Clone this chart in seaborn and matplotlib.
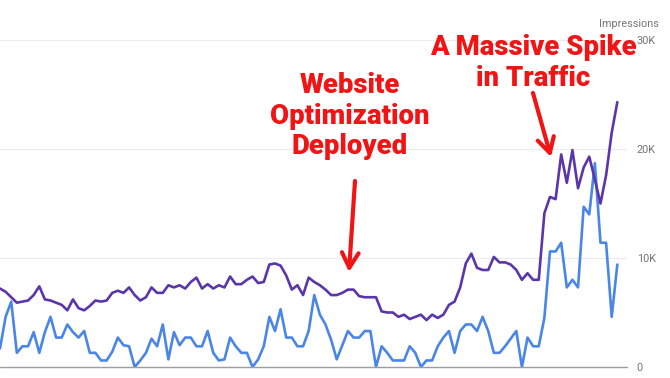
import numpy as np
import pandas as pd
import matplotlib
matplotlib.use("Agg")
import matplotlib.pyplot as plt
import seaborn as sns

# ---- data (thousands of impressions-scale units) ----
impressions_k = [
    7.2, 6.9, 6.4, 5.9, 6.0, 6.1, 6.6, 7.4, 6.2, 6.1,
    5.9, 5.7, 5.2, 6.2, 5.4, 5.2, 5.6, 6.1, 6.0, 6.1,
    6.8, 7.0, 6.8, 7.3, 6.6, 6.1, 6.4, 7.3, 6.8, 6.8,
    7.5, 7.3, 7.5, 7.2, 7.8, 8.2, 7.2, 7.6, 7.2, 7.5,
    7.3, 8.3, 7.6, 7.6, 8.0, 8.3, 7.7, 7.8, 9.4, 9.5,
    9.3, 8.4, 7.1, 7.5, 6.6, 8.2, 7.8, 7.5, 7.1, 6.6,
    6.6, 6.8, 7.1, 7.1, 6.5, 6.4, 6.4, 6.4, 5.1, 5.0,
    5.0, 4.6, 4.8, 4.4, 4.6, 4.8, 4.3, 4.8, 4.5, 4.8,
    5.7, 6.0, 7.3, 9.5, 10.4, 9.1, 8.9, 8.9, 10.1, 9.6,
    9.6, 9.4, 8.9, 8.0, 8.6, 8.0, 8.0, 14.1, 15.6, 15.4,
    19.5, 16.9, 19.9, 16.4, 18.3, 19.3, 17.2, 15.0, 17.6, 21.5,
    24.3,
]
clicks_k = [
    1.7, 4.6, 6.0, 1.3, 1.9, 1.9, 3.2, 1.3, 3.2, 4.6,
    2.7, 2.7, 3.9, 3.2, 2.7, 3.3, 1.3, 1.3, 0.6, 0.6,
    1.4, 2.7, 2.0, 1.9, 0.0, 0.6, 1.3, 2.6, 1.9, 3.9,
    0.7, 3.2, 2.0, 2.7, 2.7, 1.9, 1.9, 3.3, 1.3, 0.6,
    0.7, 2.7, 1.9, 1.3, 1.3, 0.0, 0.7, 1.9, 4.6, 3.3,
    5.3, 2.7, 2.7, 1.9, 1.9, 3.3, 6.6, 4.8, 3.9, 2.5,
    0.7, 2.0, 3.3, 2.7, 2.7, 3.3, 3.3, 0.0, 1.9, 1.3,
    0.6, 0.6, 0.6, 1.9, 1.3, 0.0, 0.6, 0.6, 1.9, 2.7,
    3.3, 1.3, 3.3, 3.9, 3.9, 3.3, 4.6, 3.3, 1.3, 1.3,
    1.9, 2.6, 3.3, 0.0, 2.7, 1.9, 1.9, 4.5, 10.6, 10.6,
    11.4, 7.3, 8.0, 7.3, 14.7, 14.0, 18.7, 11.4, 11.4, 4.6,
    9.4,
]
y_ticks = [0, 10000, 20000, 30000]
y_tick_labels = ["0", "10K", "20K", "30K"]
axis_title = "Impressions"
note_left = "Website\nOptimization\nDeployed"
note_right = "A Massive Spike\nin Traffic"

days = np.arange(len(impressions_k))
df = pd.DataFrame({
    "day": np.concatenate([days, days]),
    "value": np.array(impressions_k + clicks_k) * 1000,
    "series": ["Impressions"] * len(days) + ["Clicks"] * len(days),
})

sns.set_theme(style="white")
plt.rcParams["font.family"] = ["Roboto", "DejaVu Sans"]

W, H = 670, 378
fig = plt.figure(figsize=(W / 100, H / 100), dpi=100)
ax = fig.add_axes([0, 1 - 367 / H, 627 / W, (367 - 40) / H])

palette = {"Impressions": "#5b36ab", "Clicks": "#4a86e8"}
sns.lineplot(data=df, x="day", y="value", hue="series", palette=palette,
             hue_order=["Clicks", "Impressions"], linewidth=1.9, ax=ax,
             legend=False)

ax.set_xlim(0, 627 / 5.612)
ax.set_ylim(0, 30000)
ax.set_xlabel("")
ax.set_ylabel("")
ax.set_xticks([])
ax.yaxis.tick_right()
ax.set_yticks(y_ticks)
ax.set_yticklabels(y_tick_labels)
ax.tick_params(axis="y", length=0, pad=7, labelsize=7.8, colors="#757575")
for s in ax.spines.values():
    s.set_visible(False)
ax.grid(False)
for t in y_ticks[1:]:
    ax.axhline(t, color="#ececec", lw=0.9, zorder=0)
ax.axhline(0, color="#9e9e9e", lw=1.0, zorder=3, clip_on=False)

def px(x, y):
    return (x / W, 1 - y / H)

fig.text(*px(629, 24), axis_title, ha="center", va="center",
         fontsize=7.8, color="#757575")

red = "#f01414"
fprops = dict(fontsize=19.8, fontweight="black", color=red, ha="center",
              va="center", family=["Roboto", "DejaVu Sans"], linespacing=1.17)
fig.text(*px(350, 116), note_left, **fprops)
fig.text(*px(533, 63), note_right, **fprops)

head = dict(arrowstyle="->,head_length=0.9,head_width=0.5", color=red, lw=3,
            shrinkA=0, shrinkB=0)
ax.annotate("", xy=px(349, 272), xycoords="figure fraction",
            xytext=px(355, 181), textcoords="figure fraction", arrowprops=head)
ax.annotate("", xy=px(551, 157), xycoords="figure fraction",
            xytext=px(533, 93), textcoords="figure fraction", arrowprops=head)

fig.savefig("out.png", dpi=100)
